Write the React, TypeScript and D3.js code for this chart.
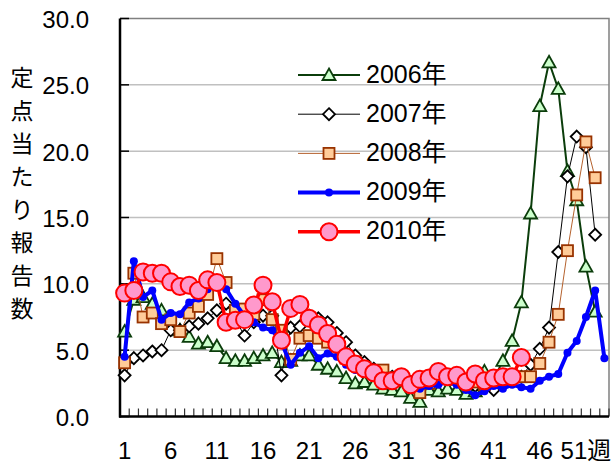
import React, { useEffect, useRef } from 'react';
import * as d3 from 'd3';

// 週番号 (1..53)
const weeks = d3.range(1, 54);
const xTickLabels = ['1', '6', '11', '16', '21', '26', '31', '36', '41', '46', '51週'];
const yTicks = [0, 5, 10, 15, 20, 25, 30];
const yTitle = ['定', '点', '当', 'た', 'り', '報', '告', '数'];

const s2006 = [6.4, 8.8, 9.0, 8.5, 8.0, 7.0, 6.5, 6.0, 5.5, 5.6,
  5.3, 4.4, 4.2, 4.2, 4.4, 4.6, 4.8, 4.1, 4.2, 4.6,
  4.6, 3.9, 3.6, 3.4, 2.9, 2.5, 2.6, 2.4, 2.1, 2.0,
  1.9, 1.4, 1.1, 2.0, 1.9, 2.1, 2.0, 1.7, 1.9, 3.4,
  2.8, 4.2, 5.7, 8.6, 15.3, 23.4, 26.7, 24.7, 18.5, 16.3,
  11.3, 7.9];
const s2007 = [3.1, 4.4, 4.6, 4.9, 5.0, 6.5, 6.5, 6.8, 7.0, 7.4,
  8.0, 8.5, 7.3, 6.1, 7.1, 7.6, 7.6, 3.1, 6.7, 6.8,
  7.6, 7.4, 7.1, 6.3, 5.6, 4.6, 4.1, 3.6, 3.3, 3.0,
  2.8, 2.6, 2.5, 2.6, 2.8, 3.0, 2.9, 2.6, 2.3, 2.5,
  2.0, 2.4, 2.7, 3.0, 3.9, 5.1, 6.7, 12.4, 18.1, 21.1,
  20.3, 13.7];
const s2008 = [4.05, 10.8, 7.5, 7.8, 7.0, 7.3, 6.4, 7.8, 8.3, 9.2,
  11.9, 10.1, 8.0, 8.1, 7.7, 8.8, 7.3, 6.5, 4.3, 5.9,
  6.1, 5.9, 5.6, 5.0, 4.4, 4.1, 3.7, 3.4, 3.5, 2.9,
  2.7, 2.3, 1.8, 2.5, 2.9, 3.1, 2.8, 2.6, 2.6, 2.4,
  2.6, 3.0, 3.0, 3.0, 3.0, 4.0, 5.6, 7.7, 12.5, 16.7,
  20.7, 18.0];
const s2009 = [4.5, 11.7, 9.0, 9.5, 7.3, 7.8, 7.7, 8.6, 8.9, 9.6,
  10.0, 9.6, 8.5, 7.6, 7.1, 6.7, 6.5, 5.6, 3.9, 4.8,
  5.3, 4.4, 4.75, 4.5, 3.9, 3.5, 3.3, 3.0, 3.0, 2.7,
  2.7, 2.4, 2.1, 2.3, 2.4, 2.6, 2.4, 2.0, 1.6, 1.9,
  2.3, 2.1, 2.4, 2.2, 2.1, 2.7, 3.0, 3.2, 4.8, 5.7,
  7.5, 9.5, 4.4];
const s2010 = [9.3, 9.5, 10.9, 10.8, 10.8, 10.15, 9.8, 9.9, 9.5, 10.3,
  10.1, 7.1, 7.25, 7.3, 8.4, 9.9, 8.65, 5.75, 8.15, 8.45,
  7.4, 6.9, 6.25, 5.45, 4.5, 3.95, 3.6, 3.3, 2.7, 2.7,
  3.0, 2.4, 2.8, 2.9, 3.4, 3.0, 3.1, 2.6, 3.2, 2.7,
  2.9, 3.0, 3.0, 4.45];

interface Series {
  name: string;
  values: number[];
  line: string;
  lineWidth: number;
  marker: 'triangle' | 'diamond' | 'square' | 'dot' | 'circle';
  fill: string;
  stroke: string;
}

const series: Series[] = [
  { name: '2006年', values: s2006, line: '#0b3d0b', lineWidth: 2, marker: 'triangle', fill: '#ccffcc', stroke: '#0b3d0b' },
  { name: '2007年', values: s2007, line: '#000000', lineWidth: 1, marker: 'diamond', fill: '#ffffff', stroke: '#000000' },
  { name: '2008年', values: s2008, line: '#b5622e', lineWidth: 1, marker: 'square', fill: '#ffcc99', stroke: '#993300' },
  { name: '2009年', values: s2009, line: '#0000ff', lineWidth: 4, marker: 'dot', fill: '#0000ff', stroke: '#0000ff' },
  { name: '2010年', values: s2010, line: '#ff0000', lineWidth: 3.5, marker: 'circle', fill: '#ff99cc', stroke: '#ff0000' },
];

const FONT = '"Liberation Sans", Arial, "Noto Sans CJK JP", sans-serif';

const App: React.FC = () => {
  const ref = useRef<SVGSVGElement>(null);

  useEffect(() => {
    const svg = d3.select(ref.current);
    svg.selectAll('*').remove();

    const left = 120, right = 609, top = 18.5, bottom = 416.5;
    const x = d3.scaleBand<number>().domain(weeks).range([left, right]);
    const cx = (w: number) => (x(w) as number) + x.bandwidth() / 2;
    const y = d3.scaleLinear().domain([0, 30]).range([bottom, top]);

    // グリッド線
    svg.append('g').selectAll('line')
      .data(yTicks.filter(t => t > 0 && t < 30))
      .enter().append('line')
      .attr('x1', left).attr('x2', right)
      .attr('y1', d => y(d)).attr('y2', d => y(d))
      .attr('stroke', '#c0c0c0').attr('stroke-width', 1.5);

    // 枠 (上・右)
    svg.append('path')
      .attr('d', `M${left},${top}H${right}V${bottom}`)
      .attr('fill', 'none').attr('stroke', '#808080').attr('stroke-width', 1.5);

    // x 目盛り (内向き)
    svg.append('g').selectAll('line')
      .data(weeks)
      .enter().append('line')
      .attr('x1', d => (x(d) as number) + x.bandwidth()).attr('x2', d => (x(d) as number) + x.bandwidth())
      .attr('y1', bottom).attr('y2', bottom - 8)
      .attr('stroke', '#333').attr('stroke-width', 1.2);

    // y 目盛り
    svg.append('g').selectAll('line')
      .data(yTicks)
      .enter().append('line')
      .attr('x1', left).attr('x2', left + 9)
      .attr('y1', d => y(d)).attr('y2', d => y(d))
      .attr('stroke', '#000').attr('stroke-width', 1.5);

    // 軸線
    svg.append('line').attr('x1', left).attr('x2', left).attr('y1', top).attr('y2', bottom + 1)
      .attr('stroke', '#000').attr('stroke-width', 2.5);
    svg.append('line').attr('x1', left - 1).attr('x2', right).attr('y1', bottom).attr('y2', bottom)
      .attr('stroke', '#000').attr('stroke-width', 2.5);

    // y ラベル
    svg.append('g').selectAll('text')
      .data(yTicks)
      .enter().append('text')
      .attr('x', 89).attr('y', d => y(d) + 3)
      .attr('text-anchor', 'end').attr('dominant-baseline', 'middle')
      .style('font-family', FONT).style('font-size', '24px')
      .text(d => d.toFixed(1));

    // x ラベル
    svg.append('g').selectAll('text')
      .data(xTickLabels)
      .enter().append('text')
      .attr('x', d => cx(parseInt(d, 10))).attr('y', 459)
      .attr('text-anchor', 'middle')
      .style('font-family', FONT).style('font-size', '24px')
      .text(d => d);

    // y タイトル (縦書き)
    svg.append('g').selectAll('text')
      .data(yTitle)
      .enter().append('text')
      .attr('x', 22).attr('y', (_, i) => 86 + i * 33)
      .attr('text-anchor', 'middle')
      .style('font-family', FONT).style('font-size', '23px')
      .text(d => d);

    const drawMarker = (g: d3.Selection<SVGGElement, unknown, null, undefined>, s: Series, px: number, py: number) => {
      if (s.marker === 'triangle') {
        g.append('path').attr('d', `M${px},${py - 6.5}L${px + 6.5},${py + 5}L${px - 6.5},${py + 5}Z`)
          .attr('fill', s.fill).attr('stroke', s.stroke).attr('stroke-width', 1.8);
      } else if (s.marker === 'diamond') {
        g.append('path').attr('d', `M${px},${py - 6}L${px + 6},${py}L${px},${py + 6}L${px - 6},${py}Z`)
          .attr('fill', s.fill).attr('stroke', s.stroke).attr('stroke-width', 1.8);
      } else if (s.marker === 'square') {
        g.append('rect').attr('x', px - 5.5).attr('y', py - 5.5).attr('width', 11).attr('height', 11)
          .attr('fill', s.fill).attr('stroke', s.stroke).attr('stroke-width', 1.8);
      } else if (s.marker === 'dot') {
        g.append('circle').attr('cx', px).attr('cy', py).attr('r', 4)
          .attr('fill', s.fill);
      } else {
        g.append('circle').attr('cx', px).attr('cy', py).attr('r', 8.5)
          .attr('fill', s.fill).attr('stroke', s.stroke).attr('stroke-width', 2);
      }
    };

    const line = d3.line<number>()
      .x((_, i) => cx(weeks[i]))
      .y(d => y(d));

    series.forEach(s => {
      const g = svg.append('g');
      g.append('path')
        .attr('d', line(s.values))
        .attr('fill', 'none')
        .attr('stroke', s.line)
        .attr('stroke-width', s.lineWidth)
        .attr('stroke-linejoin', 'round');
      s.values.forEach((v, i) => drawMarker(g, s, cx(weeks[i]), y(v)));
    });

    // 凡例
    const legend = svg.append('g');
    series.forEach((s, i) => {
      const ly = 75 + i * 39.2;
      const g = legend.append('g');
      g.append('line').attr('x1', 298).attr('x2', 360).attr('y1', ly).attr('y2', ly)
        .attr('stroke', s.line).attr('stroke-width', s.lineWidth);
      drawMarker(g, s, 329, ly);
      g.append('text').attr('x', 366).attr('y', ly + 1)
        .attr('dominant-baseline', 'middle')
        .style('font-family', FONT).style('font-size', '25px')
        .text(s.name);
    });
  }, []);

  return (
    <svg
      ref={ref}
      width={615}
      height={468}
      style={{ position: 'absolute', left: 0, top: 0, background: '#fff' }}
    />
  );
};

export default App;
